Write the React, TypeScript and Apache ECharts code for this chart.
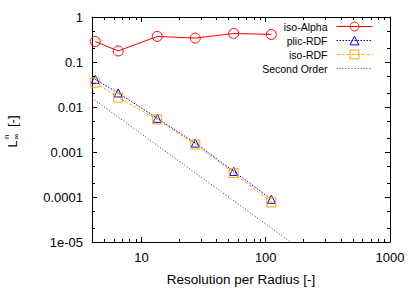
import React, { useEffect, useRef } from 'react';
import * as echarts from 'echarts';

const resolution = [4.25, 6.5, 13.4, 27.1, 55.2, 111];
const isoAlpha = [0.285, 0.176, 0.37, 0.34, 0.43, 0.41];
const plicRDF = [0.041, 0.0205, 0.0056, 0.00158, 0.00037, 0.000089];
const isoRDF = [0.035, 0.0162, 0.0053, 0.00147, 0.00034, 0.000076];
const secondOrderX = [4, 157];
const secondOrderY = [0.0158, 1.02e-5];
const seriesNames = ['iso-Alpha', 'plic-RDF', 'iso-RDF', 'Second Order'];
const xTickLabels = ['10', '100', '1000'];
const yTickLabels = ['1e-05', '0.0001', '0.001', '0.01', '0.1', '1'];
const xMinorTicks = [5, 6, 7, 8, 9, 20, 30, 40, 50, 60, 70, 80, 90, 200, 300, 400, 500, 600, 700, 800, 900];
const yMinorTicks = [2e-5, 5e-5, 2e-4, 5e-4, 2e-3, 5e-3, 2e-2, 5e-2, 0.2, 0.5];

const X_MIN = 4, X_MAX = 1000, Y_MIN = 1e-5, Y_MAX = 1;
const FONT = 'Liberation Sans';
const FS_TICK = 13;
const FS_TITLE = 13.5;
const FS_LEGEND = 10.5;

function exp10(v: number) {
  const l = Math.log10(v);
  if (Math.abs(l - Math.round(l)) > 1e-6) return null;
  return Math.round(l);
}

export default function App() {
  const ref = useRef<HTMLDivElement>(null);
  useEffect(() => {
    if (!ref.current) return;
    const chart = echarts.init(ref.current, null, { renderer: 'svg' });
    const zip = (xs: number[], ys: number[]) => xs.map((x, i) => [x, ys[i]]);
    const tickStyle = { stroke: '#000', lineWidth: 1 };
    const baseX = {
      type: 'log', min: X_MIN, max: X_MAX, logBase: 10,
      axisLine: { show: true, onZero: false, lineStyle: { color: '#000', width: 1 } },
      axisTick: { show: true, inside: true, length: 5, lineStyle: { color: '#000' } },
      splitLine: { show: false },
    };
    const baseY = {
      type: 'log', min: Y_MIN, max: Y_MAX, logBase: 10,
      axisLine: { show: true, onZero: false, lineStyle: { color: '#000', width: 1 } },
      axisTick: { show: true, inside: true, length: 5, lineStyle: { color: '#000' } },
      splitLine: { show: false },
    };
    const option: any = {
      animation: false,
      grid: { left: 92, right: 25, top: 17, bottom: 44, containLabel: false },
      xAxis: [
        {
          ...baseX, position: 'bottom',
          name: 'Resolution per Radius [-]', nameLocation: 'middle', nameGap: 30,
          nameTextStyle: { fontFamily: FONT, fontSize: FS_TITLE, color: '#000' },
          axisLabel: {
            margin: 9, fontFamily: FONT, fontSize: FS_TICK, color: '#000',
            formatter: (v: number) => { const e = exp10(v); return e == null ? '' : (xTickLabels[e - 1] ?? ''); },
          },
        },
        { ...baseX, position: 'top', axisLabel: { show: false } },
      ],
      yAxis: [
        {
          ...baseY, position: 'left',
          axisLabel: {
            margin: 9, fontFamily: FONT, fontSize: FS_TICK, color: '#000',
            formatter: (v: number) => { const e = exp10(v); return e == null ? '' : (yTickLabels[e + 5] ?? ''); },
          },
        },
        { ...baseY, position: 'right', axisLabel: { show: false } },
      ],
      legend: seriesNames.map((n, i) => ({
        data: i === 3 ? [{ name: n, itemStyle: { opacity: 0 } }] : [n],
        right: 42, top: 21 + 14 * i, padding: 0, align: 'right',
        itemWidth: 36, itemHeight: 11, selectedMode: false,
        lineStyle: { width: 1 },
        itemStyle: { borderWidth: 1 },
        textStyle: { fontFamily: FONT, fontSize: FS_LEGEND, color: '#000', padding: [0, 4, 0, 0] },
      })),
      graphic: [
        {
          type: 'group', x: 12, y: 131, rotation: Math.PI / 2,
          children: [
            { type: 'text', x: -16.5, y: 0, style: { text: 'L', font: `13px ${FONT}`, fill: '#000', verticalAlign: 'middle', align: 'left' } },
            { type: 'text', x: -8.5, y: 4, style: { text: '∞', font: `8px ${FONT}`, fill: '#000', verticalAlign: 'middle', align: 'left' } },
            { type: 'text', x: -8, y: -5.5, style: { text: 'n', font: `8px ${FONT}`, fill: '#000', verticalAlign: 'middle', align: 'left' } },
            { type: 'text', x: 4, y: 0, style: { text: '[-]', font: `13px ${FONT}`, fill: '#000', verticalAlign: 'middle', align: 'left' } },
          ],
        },
      ],
      series: [
        {
          name: 'iso-Alpha', type: 'line', data: zip(resolution, isoAlpha),
          symbol: 'circle', symbolSize: 10,
          lineStyle: { color: '#ff0000', width: 1 },
          itemStyle: { color: 'rgba(255,255,255,0)', borderColor: '#ff0000', borderWidth: 1 },
          z: 3,
        },
        {
          name: 'plic-RDF', type: 'line', data: zip(resolution, plicRDF),
          symbol: 'triangle', symbolSize: 8,
          lineStyle: { color: '#0000ff', width: 1, type: [1.5, 1.5] },
          itemStyle: { color: 'rgba(255,255,255,0)', borderColor: '#0000ff', borderWidth: 1 },
          z: 4,
        },
        {
          name: 'iso-RDF', type: 'line', data: zip(resolution, isoRDF),
          symbol: 'rect', symbolSize: 9,
          lineStyle: { color: '#ffa500', width: 1, type: [3, 2] },
          itemStyle: { color: 'rgba(255,255,255,0)', borderColor: '#ffa500', borderWidth: 1 },
          z: 5,
        },
        {
          name: 'Second Order', type: 'line', data: zip(secondOrderX, secondOrderY),
          symbol: 'none', clip: true,
          lineStyle: { color: '#333', width: 1, type: [1, 2] },
          itemStyle: { color: '#333' },
          z: 2,
        },
        {
          type: 'custom', silent: true, clip: false, z: 10,
          data: xMinorTicks.map((v) => [v, 1]),
          renderItem: (params: any, api: any) => {
            const p = api.coord([api.value(0), 1]);
            const cs = params.coordSys;
            const x = Math.round(p[0]) + 0.5;
            return {
              type: 'group', children: [
                { type: 'line', shape: { x1: x, y1: cs.y + cs.height, x2: x, y2: cs.y + cs.height - 3 }, style: tickStyle },
                { type: 'line', shape: { x1: x, y1: cs.y, x2: x, y2: cs.y + 3 }, style: tickStyle },
              ],
            };
          },
        },
        {
          type: 'custom', silent: true, clip: false, z: 10,
          data: yMinorTicks.map((v) => [X_MIN, v]),
          renderItem: (params: any, api: any) => {
            const p = api.coord([X_MIN, api.value(1)]);
            const cs = params.coordSys;
            const y = Math.round(p[1]) + 0.5;
            return {
              type: 'group', children: [
                { type: 'line', shape: { x1: cs.x, y1: y, x2: cs.x + 3, y2: y }, style: tickStyle },
                { type: 'line', shape: { x1: cs.x + cs.width, y1: y, x2: cs.x + cs.width - 3, y2: y }, style: tickStyle },
              ],
            };
          },
        },
      ],
    };
    chart.setOption(option);
    return () => chart.dispose();
  }, []);
  return <div ref={ref} style={{ width: 415, height: 291, position: 'absolute', left: 0, top: 0, background: '#fff' }} />;
}
